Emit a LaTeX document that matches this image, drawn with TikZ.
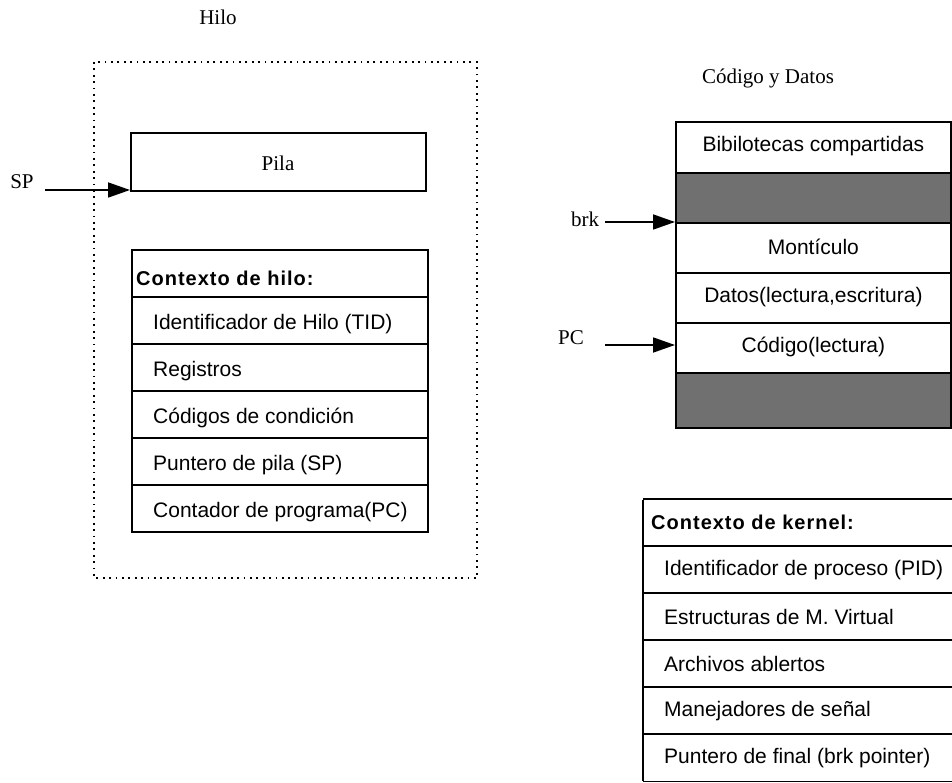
\documentclass[tikz,border=0pt]{standalone}
\usepackage{fontspec}
\setmainfont{Liberation Serif}
\setsansfont{Liberation Sans}
\usetikzlibrary{arrows.meta}
\begin{document}
\begin{tikzpicture}[x=1pt,y=-1pt,
  lbl/.style={font=\fontsize{21}{24}\selectfont, inner sep=0pt},
  entry/.style={font=\sffamily\fontsize{21}{24}\selectfont, inner sep=0pt, anchor=west},
  head/.style={font=\sffamily\bfseries\fontsize{20}{24}\selectfont\addfontfeatures{LetterSpace=5},
               inner sep=0pt, anchor=west},
  cell/.style={draw=black, line width=1.8pt, inner sep=0pt, anchor=north west},
  slot/.style={inner sep=0pt, anchor=north west},
  rule/.style={draw=black, line width=1.8pt},
  ptr/.style={line width=1.8pt, -{Triangle[length=22pt,width=15pt]}},
  dark/.style={fill=black!56},
  threadframe/.style={line width=1.8pt, dash pattern=on 1.8pt off 4.6pt}
]
\useasboundingbox (0,0) rectangle (952,783);

% ---------- thread ----------
\node[lbl] (hilo) at (218,17) {Hilo};
\draw[threadframe] (94,62) rectangle (477,578);

\node[cell, minimum width=295pt, minimum height=58pt] (pila) at (130,132) {};
\node[lbl] (pilatxt) at (278,163) {Pila};

\node[lbl] (sp) at (22,182) {SP};
\coordinate (spstart) at (45,190);
\draw[ptr] (spstart) -- (spstart -| pila.west);

% thread context table
\foreach \i/\txt in {1/Identificador de Hilo (TID),
                     2/Registros,
                     3/Códigos de condición,
                     4/Puntero de pila (SP),
                     5/Contador de programa(PC)}{
  \node[cell, minimum width=296pt, minimum height=47pt] (h\i) at (131,249+47*\i) {};
  \node[entry] (ht\i) at ([xshift=22pt,yshift=-4pt]h\i.west) {\txt};
}
\node[cell, minimum width=296pt, minimum height=47pt] (h0) at (131,249) {};
\node[head] (ht0) at ([xshift=5pt,yshift=-5pt]h0.west) {Contexto de hilo:};

% ---------- code and data ----------
\node[lbl] (cyd) at (768,78) {Código y Datos};

\node[cell, minimum width=275pt, minimum height=51pt] (libs) at (675,121) {};
\node[cell, dark, minimum width=275pt, minimum height=50pt] (gap1) at (675,172) {};
\node[cell, minimum width=275pt, minimum height=50pt] (heap) at (675,222) {};
\node[cell, minimum width=275pt, minimum height=50pt] (data) at (675,272) {};
\node[cell, minimum width=275pt, minimum height=50pt] (code) at (675,322) {};
\node[cell, dark, minimum width=275pt, minimum height=55pt] (gap2) at (675,372) {};

\node[entry, anchor=center] (libst) at ([yshift=1pt]libs.center) {Bibilotecas compartidas};
\node[entry, anchor=center] (heapt) at ([yshift=1pt]heap.center) {Montículo};
\node[entry, anchor=center] (datat) at ([yshift=1pt]data.center) {Datos(lectura,escritura)};
\node[entry, anchor=center] (codet) at ([yshift=1pt]code.center) {Código(lectura)};

\node[lbl] (brk) at (585,219) {brk};
\coordinate (brkstart) at (605,222);
\draw[ptr] (brkstart) -- (brkstart -| heap.west);

\node[lbl] (pc) at (571,338) {PC};
\coordinate (pcstart) at (605,345);
\draw[ptr] (pcstart) -- (pcstart -| code.west);

% ---------- kernel context ----------
\foreach \i in {0,...,5}{
  \node[slot, minimum width=309pt, minimum height=47pt] (k\i) at (643,499+47*\i) {};
  \draw[rule] (k\i.north west) -- (k\i.north east);
}
\draw[rule] (k5.south west) -- (k5.south east);
\draw[rule] ([yshift=-0.9pt]k0.north west) -- ([yshift=0.9pt]k5.south west);

\node[head] (kt0) at ([xshift=8pt]k0.west) {Contexto de kernel:};
\foreach \i/\txt in {1/Identificador de proceso (PID),
                     2/Estructuras de M. Virtual,
                     3/Archivos ablertos,
                     4/Manejadores de señal,
                     5/Puntero de final (brk pointer)}{
  \node[entry] (kt\i) at ([xshift=21pt]k\i.west) {\txt};
}
\end{tikzpicture}
\end{document}
